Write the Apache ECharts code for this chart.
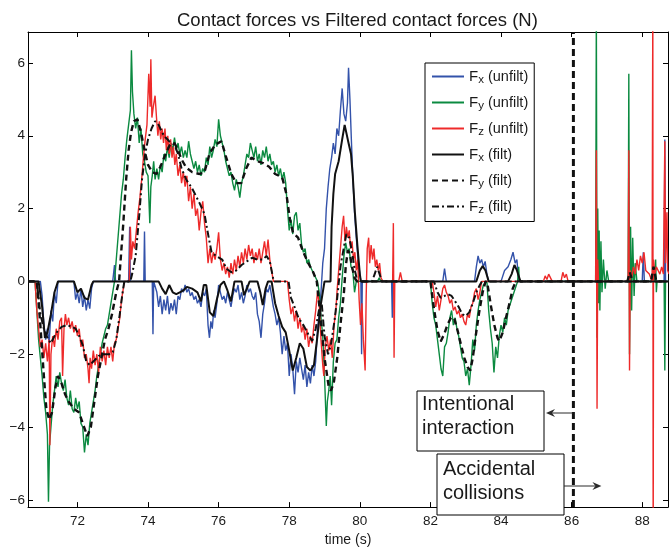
<!DOCTYPE html>
<html>
<head>
<meta charset="utf-8">
<script src="https://cdn.jsdelivr.net/npm/echarts@6/dist/echarts.min.js"></script>
<style>html,body{margin:0;padding:0;background:#fff;}#c{width:669px;height:552px;}</style>
</head>
<body>
<div id="c"></div>
<script>
// ---- data (time in s, force in N) ----
const xTicks = [72, 74, 76, 78, 80, 82, 84, 86, 88];
const yTicks = [-6, -4, -2, 0, 2, 4, 6];
const eventTime = 86.05; // boundary between intentional interaction and accidental collisions

const fxUnfilt = [[70.6,0],[70.95,0],[71.0,-0.4],[71.05,-1.2],[71.1,-1.6],[71.15,-1.3],[71.2,-1.7],[71.25,-0.8],[71.3,-1.1],[71.35,-0.3],[71.4,-0.6],[71.45,0],[71.9,0],[71.95,-0.5],[72.0,-0.3],[72.05,-0.6],[72.1,-0.2],[72.15,-0.7],[72.2,-0.4],[72.25,-0.8],[72.3,-0.5],[72.35,-0.75],[72.4,-0.2],[72.45,0],[73.0,0],[73.05,0.45],[73.08,0],[73.45,0],[73.48,1.5],[73.5,0],[73.88,0],[73.9,1.37],[73.92,0],[74.12,0],[74.14,-1.45],[74.16,0],[74.25,-0.3],[74.3,-0.7],[74.35,-0.4],[74.4,-0.9],[74.45,-0.5],[74.5,-0.8],[74.55,-0.4],[74.6,-0.9],[74.65,-0.6],[74.7,-0.8],[74.75,-0.5],[74.8,-0.9],[74.85,-0.4],[74.9,-0.5],[74.95,-0.2],[75.0,-0.3],[75.05,-0.1],[75.1,-0.3],[75.15,-0.2],[75.2,-0.4],[75.25,-0.3],[75.3,-0.5],[75.35,-0.4],[75.4,-0.6],[75.45,-0.5],[75.5,-0.7],[75.55,-0.3],[75.6,-0.4],[75.65,-0.2],[75.7,-1.2],[75.74,-1.55],[75.78,-1.1],[75.82,-1.3],[75.86,-0.8],[75.9,-1.0],[75.95,-0.6],[76.0,-0.1],[76.05,-0.3],[76.1,-0.5],[76.15,-0.4],[76.2,-0.6],[76.25,-0.3],[76.3,-0.5],[76.35,-0.7],[76.4,-0.4],[76.45,-0.2],[76.5,-0.3],[76.55,-0.1],[76.6,-0.5],[76.65,-0.3],[76.7,-0.6],[76.75,-0.4],[76.8,-0.1],[76.85,-0.3],[76.9,-0.2],[76.95,-0.4],[77.0,-0.5],[77.05,-0.3],[77.1,-0.9],[77.15,-1.1],[77.2,-1.55],[77.25,-0.9],[77.3,-0.6],[77.35,-0.2],[77.4,-0.3],[77.45,-0.1],[77.5,-0.4],[77.55,-0.7],[77.6,-0.9],[77.65,-1.2],[77.7,-1.0],[77.75,-1.4],[77.8,-2.0],[77.85,-1.5],[77.9,-1.9],[77.95,-1.7],[78.0,-2.6],[78.05,-2.0],[78.1,-2.4],[78.15,-3.1],[78.2,-2.2],[78.25,-2.5],[78.3,-2.1],[78.35,-2.4],[78.4,-2.7],[78.45,-2.3],[78.5,-2.9],[78.55,-2.5],[78.6,-2.8],[78.65,-2.3],[78.7,-2.6],[78.75,-2.2],[78.8,-1.3],[78.85,-0.9],[78.9,-0.3],[78.95,0.5],[79.0,0.9],[79.05,2.0],[79.1,2.6],[79.15,3.1],[79.2,3.4],[79.25,3.8],[79.3,3.5],[79.35,4.2],[79.4,4.0],[79.45,4.7],[79.5,5.3],[79.55,4.6],[79.6,4.4],[79.65,4.9],[79.68,5.87],[79.72,5.0],[79.76,3.9],[79.8,2.9],[79.85,1.9],[79.9,1.2],[79.95,0.6],[80.0,0.2],[80.03,0],[80.05,-2.0],[80.07,0],[80.9,0],[80.92,-1.0],[80.94,0],[82.35,0],[82.4,0.35],[82.45,0],[83.25,0],[83.3,0.4],[83.35,0.7],[83.4,0.5],[83.45,0.6],[83.5,0.4],[83.55,0.55],[83.6,0.2],[83.65,0],[84.0,0],[84.1,0.3],[84.2,0.4],[84.28,0.6],[84.34,0.8],[84.4,0.5],[84.45,0.6],[84.5,0],[88.0,0],[88.03,0.8],[88.06,0],[88.62,0],[88.64,3.9],[88.66,0],[88.76,0]];

const fyUnfilt = [[70.6,0],[70.8,0],[70.85,-0.8],[70.9,-1.6],[70.95,-2.1],[71.0,-2.6],[71.05,-3.2],[71.1,-3.6],[71.15,-4.2],[71.18,-6.05],[71.21,-4.5],[71.25,-4.0],[71.3,-3.4],[71.35,-3.0],[71.4,-2.6],[71.45,-2.9],[71.5,-2.5],[71.55,-2.8],[71.6,-3.0],[71.65,-2.7],[71.7,-3.2],[71.75,-3.4],[71.8,-3.0],[71.85,-3.5],[71.9,-3.6],[71.95,-3.2],[72.0,-3.5],[72.05,-3.3],[72.1,-3.9],[72.15,-4.0],[72.2,-4.7],[72.25,-4.2],[72.3,-4.5],[72.35,-3.9],[72.4,-3.6],[72.45,-3.3],[72.5,-3.0],[72.55,-2.6],[72.6,-2.3],[72.65,-2.0],[72.7,-1.7],[72.75,-1.5],[72.8,-1.3],[72.85,-1.2],[72.9,-0.9],[72.95,-0.6],[73.0,-0.3],[73.05,0],[73.1,0.6],[73.15,1.2],[73.2,1.8],[73.25,2.4],[73.3,2.8],[73.35,3.4],[73.4,3.9],[73.45,4.3],[73.5,4.7],[73.53,6.35],[73.56,5.2],[73.6,4.6],[73.65,4.2],[73.7,4.5],[73.75,3.8],[73.8,4.2],[73.85,3.5],[73.9,3.3],[73.95,3.0],[74.0,2.9],[74.05,1.6],[74.08,2.6],[74.12,2.9],[74.16,3.3],[74.2,2.8],[74.25,3.1],[74.3,2.8],[74.35,3.2],[74.4,3.0],[74.45,3.5],[74.5,3.3],[74.55,3.7],[74.6,3.4],[74.65,3.8],[74.7,3.6],[74.75,3.95],[74.8,3.6],[74.85,3.8],[74.9,3.5],[74.95,3.7],[75.0,3.4],[75.05,3.6],[75.1,3.4],[75.15,3.85],[75.2,3.5],[75.25,3.3],[75.3,3.1],[75.35,3.3],[75.4,3.0],[75.45,3.2],[75.5,2.9],[75.55,3.1],[75.6,3.0],[75.65,3.4],[75.7,3.2],[75.75,3.7],[75.8,3.4],[75.85,3.6],[75.9,3.9],[75.95,3.7],[76.0,4.45],[76.05,4.0],[76.1,3.8],[76.15,3.6],[76.2,3.3],[76.25,3.1],[76.3,2.9],[76.35,3.0],[76.4,2.7],[76.45,2.5],[76.5,2.8],[76.55,2.6],[76.6,2.3],[76.65,2.7],[76.7,2.9],[76.75,3.2],[76.8,3.5],[76.85,3.4],[76.9,3.8],[76.95,3.6],[77.0,3.4],[77.05,3.7],[77.1,3.3],[77.15,3.5],[77.2,3.2],[77.25,3.6],[77.3,3.4],[77.35,3.7],[77.4,3.3],[77.45,3.5],[77.5,3.2],[77.55,3.3],[77.6,3.0],[77.65,3.2],[77.7,2.9],[77.75,3.1],[77.8,2.8],[77.85,3.0],[77.9,2.7],[77.95,2.0],[78.0,1.4],[78.05,1.7],[78.1,1.3],[78.15,1.8],[78.2,1.9],[78.25,1.4],[78.3,1.6],[78.35,1.0],[78.4,0.8],[78.45,0.9],[78.5,0.5],[78.55,0.6],[78.6,0.4],[78.65,0.3],[78.7,0.35],[78.75,0.1],[78.8,0],[78.85,-0.3],[78.9,-1.0],[78.95,-1.5],[79.0,-2.6],[79.05,-3.97],[79.08,-3.3],[79.12,-3.0],[79.16,-2.6],[79.2,-3.4],[79.25,-2.2],[79.3,-1.7],[79.35,-1.6],[79.4,-1.0],[79.45,-0.6],[79.5,0.1],[79.55,0.7],[79.6,1.06],[79.65,0.8],[79.7,0.9],[79.75,0.4],[79.8,0.3],[79.85,-0.3],[79.9,0],[80.5,0],[80.55,0.1],[80.6,0],[82.0,0],[82.05,-0.6],[82.1,-1.0],[82.15,-1.2],[82.2,-1.6],[82.25,-2.0],[82.3,-2.4],[82.35,-2.6],[82.4,-1.8],[82.45,-1.7],[82.5,-1.4],[82.55,-1.0],[82.6,-0.8],[82.65,-1.2],[82.7,-1.0],[82.75,-1.3],[82.8,-1.5],[82.85,-1.8],[82.9,-2.1],[82.95,-2.2],[83.0,-2.6],[83.05,-2.4],[83.1,-2.85],[83.15,-2.3],[83.2,-1.6],[83.25,-1.9],[83.3,-1.2],[83.35,-0.8],[83.4,-0.5],[83.45,-0.3],[83.5,-0.1],[83.6,0],[83.65,-0.8],[83.7,-1.3],[83.75,-1.7],[83.8,-2.5],[83.85,-1.8],[83.9,-2.1],[83.95,-1.5],[84.0,-1.2],[84.05,-1.4],[84.1,-1.0],[84.15,-1.2],[84.2,-0.8],[84.3,-0.5],[84.4,-0.2],[84.47,0],[84.5,0.4],[84.52,0],[86.68,0],[86.7,7.5],[86.72,-1.55],[86.74,2.0],[86.76,-0.6],[86.78,1.4],[86.8,-0.8],[86.83,1.1],[86.86,-0.3],[86.9,0.6],[86.95,-0.2],[87.0,0.3],[87.05,0],[87.6,0],[87.62,5.7],[87.64,-2.0],[87.67,1.5],[87.7,-0.8],[87.73,1.2],[87.77,-0.4],[87.8,0.5],[87.85,0],[88.35,0],[88.38,0.6],[88.4,-0.3],[88.42,0],[88.62,0],[88.64,-2.45],[88.66,0],[88.76,0]];

const fzUnfilt = [[70.6,0],[70.8,0],[70.85,-0.8],[70.9,-1.3],[70.95,-1.8],[71.0,-1.6],[71.05,-2.1],[71.1,-1.7],[71.15,-2.2],[71.2,-1.6],[71.22,-4.5],[71.25,-2.0],[71.3,-1.5],[71.35,-1.8],[71.4,-1.3],[71.45,-1.6],[71.5,-1.1],[71.55,-1.0],[71.58,-2.6],[71.62,-1.3],[71.66,-0.9],[71.7,-1.2],[71.75,-1.0],[71.8,-1.3],[71.85,-1.1],[71.9,-1.4],[71.95,-1.2],[72.0,-1.5],[72.05,-1.3],[72.1,-1.8],[72.15,-1.6],[72.2,-2.1],[72.25,-2.0],[72.3,-2.4],[72.33,-2.8],[72.36,-2.1],[72.4,-2.4],[72.45,-1.9],[72.5,-2.3],[72.55,-2.0],[72.6,-2.5],[72.65,-1.8],[72.7,-2.2],[72.75,-1.9],[72.8,-2.3],[72.85,-1.8],[72.9,-2.1],[72.95,-1.8],[73.0,-2.2],[73.05,-1.7],[73.1,-1.6],[73.15,-1.3],[73.2,-1.0],[73.25,-0.5],[73.3,-0.2],[73.33,0],[73.47,0],[73.5,1.5],[73.53,0.6],[73.57,1.1],[73.62,0.9],[73.67,1.4],[73.72,1.9],[73.77,2.3],[73.82,2.8],[73.87,3.4],[73.92,3.9],[73.97,4.3],[74.02,5.7],[74.06,4.8],[74.08,6.1],[74.11,4.5],[74.15,4.8],[74.2,5.1],[74.24,4.5],[74.28,4.0],[74.32,4.4],[74.36,3.9],[74.4,4.2],[74.44,3.8],[74.48,4.2],[74.52,3.6],[74.56,4.0],[74.6,3.5],[74.64,3.9],[74.68,3.4],[74.72,3.7],[74.76,3.2],[74.8,3.5],[74.85,2.9],[74.9,3.2],[74.95,2.7],[75.0,3.0],[75.05,2.6],[75.1,2.9],[75.15,2.2],[75.2,2.6],[75.25,2.0],[75.3,2.4],[75.35,1.8],[75.4,2.0],[75.45,1.4],[75.5,1.9],[75.55,2.2],[75.6,1.6],[75.65,1.2],[75.7,0.5],[75.75,0.9],[75.8,0.5],[75.85,0.8],[75.9,0.6],[75.95,0.9],[76.0,1.35],[76.05,0.6],[76.1,0.3],[76.15,0.5],[76.2,0.2],[76.25,0.4],[76.3,0.1],[76.35,0.5],[76.4,0.2],[76.45,0.6],[76.5,0.3],[76.55,0.7],[76.6,0.4],[76.65,0.8],[76.7,0.5],[76.75,0.9],[76.8,0.6],[76.85,1.0],[76.9,0.7],[76.95,0.9],[77.0,0.5],[77.05,0.8],[77.1,0.6],[77.15,0.9],[77.2,0.5],[77.25,0.8],[77.3,1.1],[77.35,0.7],[77.4,1.15],[77.45,0.6],[77.5,0.3],[77.55,0],[77.95,0],[78.0,-0.5],[78.05,-0.9],[78.1,-0.7],[78.15,-1.1],[78.2,-0.8],[78.25,-1.3],[78.3,-1.0],[78.35,-1.4],[78.4,-1.2],[78.45,-1.6],[78.5,-1.3],[78.55,-1.8],[78.6,-1.5],[78.65,-1.7],[78.7,-1.2],[78.75,-0.8],[78.8,-0.3],[78.85,-0.6],[78.9,-1.6],[78.95,-2.3],[78.98,-2.6],[79.02,-1.8],[79.07,-1.5],[79.12,-1.9],[79.17,-1.6],[79.22,-2.1],[79.27,-1.2],[79.32,-0.8],[79.36,-0.2],[79.4,0.3],[79.45,0.9],[79.5,1.5],[79.54,1.8],[79.58,1.1],[79.62,1.5],[79.66,1.2],[79.7,1.4],[79.74,0.9],[79.78,1.1],[79.82,0.6],[79.86,0.8],[79.9,0.3],[79.94,0.6],[79.98,-0.5],[80.02,-1.2],[80.06,-0.6],[80.1,-1.6],[80.15,-2.45],[80.18,-0.4],[80.21,0.9],[80.25,1.2],[80.28,0.5],[80.32,1.0],[80.36,0.6],[80.4,0.9],[80.44,0.4],[80.48,0.6],[80.52,0.3],[80.56,0.5],[80.6,0.1],[80.65,0],[80.93,0],[80.95,1.6],[80.97,-2.1],[80.99,0],[81.1,0],[81.15,0.25],[81.2,0],[82.05,0],[82.1,-0.3],[82.15,-0.7],[82.2,-0.4],[82.25,-0.8],[82.3,-0.5],[82.35,-0.2],[82.4,-0.1],[82.45,-0.3],[82.5,-0.4],[82.55,-0.6],[82.6,-0.5],[82.65,-0.8],[82.7,-0.7],[82.75,-0.9],[82.8,-0.8],[82.85,-1.0],[82.9,-0.9],[82.95,-1.1],[83.0,-1.2],[83.05,-0.9],[83.1,-1.0],[83.15,-0.7],[83.2,-0.6],[83.25,-0.3],[83.3,-0.2],[83.35,-0.5],[83.4,-0.3],[83.45,0],[85.2,0],[85.25,0.15],[85.3,0.05],[85.35,0.2],[85.45,0],[85.7,0],[85.75,0.25],[85.8,0.1],[85.85,0.2],[85.9,0],[86.68,0],[86.7,3.6],[86.72,-3.5],[86.74,0.6],[86.76,0],[87.6,0],[87.62,3.6],[87.64,-2.45],[87.66,0.3],[87.7,0.1],[87.75,0.4],[87.8,0.2],[87.85,0.6],[87.9,0.3],[87.95,0.7],[88.0,0.5],[88.05,0.8],[88.1,0.3],[88.2,0.2],[88.28,0],[88.3,8],[88.31,-8],[88.32,0.6],[88.36,0.2],[88.4,0.4],[88.45,0.3],[88.5,0.2],[88.55,0.4],[88.6,0.2],[88.64,3.85],[88.66,0.5],[88.7,1.9],[88.72,0.3],[88.76,0.2]];

const fxFilt = [[70.6,0],[70.9,0],[71.0,-0.7],[71.08,-1.55],[71.15,-1.4],[71.25,-0.9],[71.35,-0.3],[71.45,0],[71.9,0],[72.0,-0.3],[72.1,-0.2],[72.2,-0.45],[72.3,-0.5],[72.4,-0.1],[72.45,0],[74.3,0],[74.4,-0.2],[74.5,-0.35],[74.6,-0.1],[74.7,-0.3],[74.8,-0.35],[74.9,-0.3],[75.0,-0.25],[75.1,-0.15],[75.25,-0.2],[75.4,-0.3],[75.5,-0.55],[75.58,-0.1],[75.65,-0.1],[75.75,-0.85],[75.85,-0.95],[75.95,-0.5],[76.05,-0.1],[76.15,0],[76.25,-0.25],[76.35,-0.55],[76.45,0],[76.65,0],[76.72,-0.38],[76.8,-0.2],[76.88,0],[77.1,0],[77.18,-0.3],[77.25,-0.65],[77.33,-0.2],[77.4,0],[77.5,0],[77.6,-0.6],[77.7,-0.95],[77.8,-1.25],[77.9,-1.4],[78.0,-1.9],[78.1,-2.45],[78.2,-2.1],[78.3,-1.7],[78.4,-1.85],[78.5,-2.35],[78.6,-2.45],[78.7,-2.3],[78.8,-1.5],[78.9,-0.6],[79.0,0],[79.17,0],[79.2,1.5],[79.25,2.4],[79.3,2.95],[79.4,3.3],[79.5,3.9],[79.57,4.3],[79.62,4.3],[79.68,3.8],[79.75,3.5],[79.8,2.9],[79.86,1.9],[79.93,1.0],[80.0,0.2],[80.03,0],[83.3,0],[83.4,0.3],[83.48,0.42],[83.56,0.3],[83.65,0],[84.2,0],[84.3,0.2],[84.38,0.45],[84.45,0.3],[84.55,0],[88.76,0]];

const fyFilt = [[70.6,0],[70.85,0],[70.95,-1.2],[71.05,-2.6],[71.12,-3.5],[71.2,-3.8],[71.28,-3.6],[71.38,-2.9],[71.45,-2.6],[71.55,-2.8],[71.65,-3.1],[71.75,-3.3],[71.9,-3.5],[72.05,-3.6],[72.15,-3.9],[72.28,-4.25],[72.38,-4.0],[72.48,-3.3],[72.58,-2.6],[72.68,-2.1],[72.78,-1.6],[72.88,-1.3],[72.98,-0.9],[73.1,-0.3],[73.18,0],[73.24,0.8],[73.3,1.6],[73.38,2.8],[73.45,3.6],[73.52,4.1],[73.6,4.4],[73.7,4.45],[73.8,4.1],[73.9,3.6],[74.0,3.2],[74.12,3.0],[74.24,2.95],[74.35,3.15],[74.5,3.5],[74.62,3.75],[74.75,3.8],[74.85,3.6],[74.95,3.35],[75.08,3.13],[75.25,3.0],[75.46,2.95],[75.6,3.0],[75.74,3.5],[75.9,3.75],[76.08,3.85],[76.2,3.45],[76.36,2.95],[76.5,2.7],[76.64,2.7],[76.78,3.1],[76.93,3.4],[77.1,3.3],[77.26,3.25],[77.43,3.15],[77.6,2.95],[77.8,2.86],[77.92,2.4],[78.02,1.7],[78.11,1.33],[78.25,1.2],[78.4,0.8],[78.54,0.5],[78.68,0.25],[78.78,0],[78.87,-0.83],[79.0,-2.1],[79.12,-2.9],[79.18,-3.0],[79.26,-2.8],[79.36,-2.1],[79.45,-1.2],[79.55,-0.3],[79.6,0.4],[79.66,0.85],[79.72,0.75],[79.78,0.4],[79.85,0.1],[79.92,0],[82.0,0],[82.1,-0.75],[82.2,-1.35],[82.29,-1.65],[82.39,-1.45],[82.48,-1.2],[82.58,-1.0],[82.67,-1.0],[82.77,-1.35],[82.86,-1.72],[82.96,-2.1],[83.05,-2.35],[83.13,-2.45],[83.2,-2.1],[83.29,-1.45],[83.38,-0.85],[83.48,-0.3],[83.56,0],[83.62,-0.1],[83.71,-0.65],[83.81,-1.2],[83.9,-1.55],[83.95,-1.64],[84.05,-1.4],[84.14,-1.0],[84.24,-0.6],[84.33,-0.2],[84.42,0],[87.58,0],[87.65,0.25],[87.72,0],[88.25,0],[88.32,0.4],[88.4,0],[88.76,0]];

const fzFilt = [[70.6,0],[70.85,0],[70.95,-0.9],[71.05,-1.3],[71.15,-1.55],[71.25,-1.7],[71.35,-1.5],[71.45,-1.35],[71.55,-1.25],[71.7,-1.2],[71.85,-1.25],[71.95,-1.3],[72.05,-1.5],[72.15,-1.75],[72.25,-2.2],[72.35,-2.3],[72.45,-2.2],[72.6,-2.05],[72.75,-2.0],[72.9,-2.0],[73.0,-1.95],[73.1,-1.6],[73.2,-0.9],[73.28,-0.3],[73.33,0],[73.5,0],[73.55,0.2],[73.65,0.7],[73.75,1.8],[73.83,2.8],[73.92,3.5],[74.0,3.9],[74.1,4.2],[74.2,4.4],[74.3,4.3],[74.45,4.0],[74.6,3.85],[74.75,3.75],[74.85,3.5],[74.95,3.1],[75.08,2.8],[75.25,2.55],[75.46,2.15],[75.6,1.85],[75.7,1.3],[75.8,0.8],[75.93,0.7],[76.1,0.6],[76.22,0.35],[76.36,0.25],[76.5,0.3],[76.65,0.45],[76.8,0.55],[76.95,0.65],[77.1,0.6],[77.25,0.6],[77.36,0.7],[77.45,0.55],[77.52,0.2],[77.56,0],[77.98,0],[78.05,-0.45],[78.15,-0.7],[78.26,-1.0],[78.4,-1.2],[78.54,-1.45],[78.65,-1.64],[78.75,-1.3],[78.85,-0.75],[78.92,-0.6],[79.0,-1.5],[79.1,-2.0],[79.18,-1.75],[79.28,-1.1],[79.36,-0.45],[79.45,0.4],[79.55,0.95],[79.62,1.3],[79.7,1.2],[79.78,0.8],[79.86,0.3],[79.93,0],[80.35,0],[80.42,0.2],[80.49,0.4],[80.56,0.2],[80.62,0],[82.1,0],[82.2,-0.3],[82.29,-0.45],[82.4,-0.4],[82.5,-0.35],[82.6,-0.4],[82.7,-0.55],[82.8,-0.7],[82.9,-0.9],[83.0,-0.95],[83.1,-0.85],[83.2,-0.6],[83.3,-0.3],[83.4,-0.1],[83.46,0],[88.76,0]];

// ---- chart ----
const FONT = "'Liberation Sans', Arial, Helvetica, sans-serif";
const X_MIN = 70.6, X_MAX = 88.73, Y_MIN = -6.2, Y_MAX = 6.85;
const fmtNum = v => (v < 0 ? '\u2212' + Math.abs(v) : String(v));

const chart = echarts.init(document.getElementById('c'), null, {renderer: 'canvas'});

const baseAxisX = {
  type: 'value', min: X_MIN, max: X_MAX,
  axisLine: {onZero: false, lineStyle: {color: '#000', width: 1}},
  axisTick: {inside: true, length: 5, customValues: xTicks, lineStyle: {color: '#000'}},
  splitLine: {show: false}
};
const baseAxisY = {
  type: 'value', min: Y_MIN, max: Y_MAX,
  axisLine: {onZero: false, lineStyle: {color: '#000', width: 1}},
  axisTick: {inside: true, length: 5, customValues: yTicks, lineStyle: {color: '#000'}},
  splitLine: {show: false}
};

function legendFmt(name) {
  // "Fx (unfilt)" -> F with subscript x
  return '{f|F}{s|' + name.charAt(1) + '}{t| ' + name.slice(3) + '}';
}

const unfiltStyle = (color) => ({color: color, width: 1.4});

const option = {
  animation: false,
  backgroundColor: '#fff',
  title: {
    text: 'Contact forces vs Filtered contact forces (N)',
    left: 172, top: 6,
    textStyle: {fontFamily: FONT, fontSize: 18.5, fontWeight: 'normal', color: '#1a1a1a'}
  },
  grid: {left: 28, right: 1, top: 32, bottom: 36, containLabel: false},
  xAxis: [
    Object.assign({}, baseAxisX, {
      position: 'bottom',
      name: 'time (s)', nameLocation: 'middle', nameGap: 25,
      nameTextStyle: {fontFamily: FONT, fontSize: 14, color: '#1a1a1a'},
      axisLabel: {customValues: xTicks, fontFamily: FONT, fontSize: 13.5, color: '#1a1a1a', margin: 7, formatter: fmtNum}
    }),
    Object.assign({}, baseAxisX, {position: 'top', axisLabel: {show: false}})
  ],
  yAxis: [
    Object.assign({}, baseAxisY, {
      position: 'left',
      axisLabel: {customValues: yTicks, fontFamily: FONT, fontSize: 13.5, color: '#1a1a1a', margin: 3, formatter: fmtNum}
    }),
    Object.assign({}, baseAxisY, {position: 'right', axisLabel: {show: false}})
  ],
  legend: {
    orient: 'vertical', left: 425, top: 63,
    padding: [6, 6, 6, 6],
    itemWidth: 32, itemHeight: 14, itemGap: 9.5,
    backgroundColor: '#fff', borderColor: '#000', borderWidth: 1, borderRadius: 0,
    itemStyle: {opacity: 0, borderWidth: 0},
    formatter: legendFmt,
    textStyle: {
      fontFamily: FONT, color: '#1a1a1a',
      rich: {
        f: {fontFamily: FONT, fontSize: 15, lineHeight: 18, color: '#1a1a1a'},
        s: {fontFamily: FONT, fontSize: 11.5, lineHeight: 11, verticalAlign: 'bottom', color: '#1a1a1a'},
        t: {fontFamily: FONT, fontSize: 14.5, lineHeight: 18, color: '#1a1a1a'}
      }
    },
    data: ['Fx (unfilt)', 'Fy (unfilt)', 'Fz (unfilt)', 'Fx (filt)', 'Fy (filt)', 'Fz (filt)']
  },
  series: [
    {name: 'Fx (unfilt)', type: 'line', data: fxUnfilt, symbol: 'none', lineStyle: unfiltStyle('#3352aa'), itemStyle: {color: '#3352aa'}, z: 2},
    {name: 'Fy (unfilt)', type: 'line', data: fyUnfilt, symbol: 'none', lineStyle: unfiltStyle('#0b8a40'), itemStyle: {color: '#0b8a40'}, z: 3},
    {name: 'Fz (unfilt)', type: 'line', data: fzUnfilt, symbol: 'none', lineStyle: unfiltStyle('#ee2a2a'), itemStyle: {color: '#ee2a2a'}, z: 4},
    {name: 'Fx (filt)', type: 'line', data: fxFilt, symbol: 'none', lineStyle: {color: '#111', width: 2}, itemStyle: {color: '#111'}, z: 5},
    {name: 'Fy (filt)', type: 'line', data: fyFilt, symbol: 'none', lineStyle: {color: '#111', width: 2.4, type: [6, 4]}, itemStyle: {color: '#111'}, z: 6},
    {name: 'Fz (filt)', type: 'line', data: fzFilt, symbol: 'none', lineStyle: {color: '#111', width: 2, type: [7, 3, 2, 3]}, itemStyle: {color: '#111'}, z: 6},
    {name: 'event', type: 'line', data: [[eventTime, Y_MIN], [eventTime, Y_MAX]], symbol: 'none',
     lineStyle: {color: '#111', width: 3, type: [7, 4]}, z: 7, silent: true}
  ]
};
chart.setOption(option);

// annotation boxes + arrows pointing away from the event line
const ex = chart.convertToPixel({xAxisIndex: 0}, eventTime);
const box1 = {x: 417, y: 391, w: 127, h: 60};
const box2 = {x: 437, y: 454, w: 127, h: 61};
const a1y = 413, a2y = 486;
const arrowColor = '#2a2a2a';
const tip1 = box1.x + box1.w + 2;
const tip2 = ex + 28;
chart.setOption({
  graphic: [
    {type: 'rect', z: 100, shape: {x: box1.x, y: box1.y, width: box1.w, height: box1.h}, style: {fill: '#fff', stroke: '#000', lineWidth: 1}},
    {type: 'text', z: 101, x: box1.x + 5, y: box1.y + 1, style: {text: 'Intentional\ninteraction', fontFamily: FONT, fontSize: 20, lineHeight: 24, fill: '#1a1a1a', verticalAlign: 'top'}},
    {type: 'rect', z: 100, shape: {x: box2.x, y: box2.y, width: box2.w, height: box2.h}, style: {fill: '#fff', stroke: '#000', lineWidth: 1}},
    {type: 'text', z: 101, x: box2.x + 6, y: box2.y + 3, style: {text: 'Accidental\ncollisions', fontFamily: FONT, fontSize: 20, lineHeight: 24, fill: '#1a1a1a', verticalAlign: 'top'}},
    {type: 'line', z: 102, shape: {x1: ex, y1: a1y, x2: tip1 + 6, y2: a1y}, style: {stroke: arrowColor, lineWidth: 1}},
    {type: 'polygon', z: 102, shape: {points: [[tip1, a1y], [tip1 + 9, a1y - 4], [tip1 + 6, a1y], [tip1 + 9, a1y + 4]]}, style: {fill: arrowColor}},
    {type: 'line', z: 102, shape: {x1: box2.x + box2.w, y1: a2y, x2: tip2 - 6, y2: a2y}, style: {stroke: arrowColor, lineWidth: 1}},
    {type: 'polygon', z: 102, shape: {points: [[tip2, a2y], [tip2 - 9, a2y - 4], [tip2 - 6, a2y], [tip2 - 9, a2y + 4]]}, style: {fill: arrowColor}}
  ]
});
</script>
</body>
</html>
